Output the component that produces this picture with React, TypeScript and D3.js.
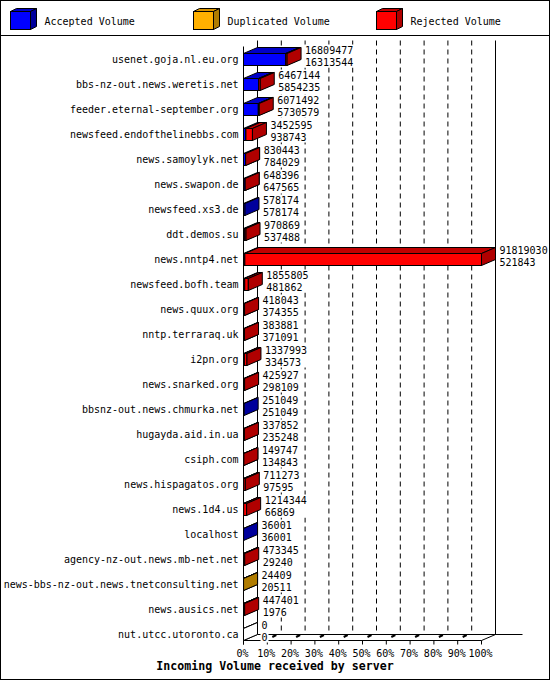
import React from 'react'
import * as d3 from 'd3'

// servers, top to bottom
const categories = [
  'usenet.goja.nl.eu.org',
  'bbs-nz-out.news.weretis.net',
  'feeder.eternal-september.org',
  'newsfeed.endofthelinebbs.com',
  'news.samoylyk.net',
  'news.swapon.de',
  'newsfeed.xs3.de',
  'ddt.demos.su',
  'news.nntp4.net',
  'newsfeed.bofh.team',
  'news.quux.org',
  'nntp.terraraq.uk',
  'i2pn.org',
  'news.snarked.org',
  'bbsnz-out.news.chmurka.net',
  'hugayda.aid.in.ua',
  'csiph.com',
  'news.hispagatos.org',
  'news.1d4.us',
  'localhost',
  'agency-nz-out.news.mb-net.net',
  'news-bbs-nz-out.news.tnetconsulting.net',
  'news.ausics.net',
  'nut.utcc.utoronto.ca',
]

const acceptedVolume = [
  16313544, 5854235, 5730579, 938743, 784029, 647565, 578174, 537488,
  521843, 481862, 374355, 371091, 334573, 298109, 251049, 235248,
  134843, 97595, 66869, 36001, 29240, 20511, 1976, 0,
]

const duplicatedVolume = [
  0, 0, 0, 0, 0, 0, 0, 0,
  0, 0, 0, 0, 0, 0, 0, 0,
  0, 0, 0, 0, 0, 3898, 0, 0,
]

const rejectedVolume = [
  495933, 612909, 340913, 2513852, 46414, 831, 0, 433381,
  91297187, 1373943, 43688, 12790, 1003420, 127818, 0, 102604,
  14904, 613678, 1147475, 0, 444105, 0, 445425, 0,
]

const seriesNames = ['Accepted Volume', 'Duplicated Volume', 'Rejected Volume']
const percentTicks = [0, 10, 20, 30, 40, 50, 60, 70, 80, 90, 100]
const title = 'Incoming Volume received by server'

const W = 550
const H = 680
const DX = 14 // 3d depth
const DY = 6
const FONT = '"DejaVu Sans Mono", "Liberation Mono", monospace'

const palette = [
  { front: '#0000ff', top: '#0000c8', side: '#00009c' },
  { front: '#ffb000', top: '#d89400', side: '#b07c00' },
  { front: '#ff0000', top: '#c00000', side: '#b00000' },
]
const emptyBox = { front: '#ffffff', top: '#ffffff', side: '#ffffff' }

type Colors = { front: string; top: string; side: string }

const Box = ({ x0, x1, y0, y1, c, dx = DX, dy = DY }: {
  x0: number; x1: number; y0: number; y1: number; c: Colors; dx?: number; dy?: number
}) => (
  <g stroke="#000" strokeWidth={1}>
    <rect x={x0} y={y0} width={Math.max(x1 - x0, 0)} height={y1 - y0} fill={c.front} />
    <polygon points={`${x0},${y0} ${x0 + dx},${y0 - dy} ${x1 + dx},${y0 - dy} ${x1},${y0}`} fill={c.top} />
    <polygon points={`${x1},${y0} ${x1 + dx},${y0 - dy} ${x1 + dx},${y1 - dy} ${x1},${y1}`} fill={c.side} />
  </g>
)

export default function App() {
  const series = [acceptedVolume, duplicatedVolume, rejectedVolume]
  const totals = categories.map((_, i) => series.reduce((s, arr) => s + arr[i], 0))
  const maxTotal = d3.max(totals) as number

  const x = d3.scaleLinear().domain([0, 100]).range([243.5, 481.5])
  const y = d3.scaleBand<string>().domain(categories).range([40.5, 640.5])
  const legendX = d3.scaleLinear().domain([0, 1]).range([10.5, 193.5])

  const pct = (v: number) => (v / maxTotal) * 100
  const rowCenter = (c: string) => (y(c) as number) + 19
  const baseY = y.range()[1]
  const topY = y.range()[0]
  const x0 = x(0)
  const x100 = x(100)

  return (
    <div style={{ position: 'absolute', left: 0, top: 0 }}>
      <svg width={W} height={H} style={{ display: 'block', background: '#fff' }} fontFamily={FONT}>
        <rect x={0.5} y={0.5} width={W - 1} height={H - 1} fill="#fff" stroke="#000" />

        {/* legend */}
        {seriesNames.map((name, k) => (
          <g key={name}>
            <Box x0={legendX(k)} x1={legendX(k) + 20} y0={11.5} y1={29.5} c={palette[k]} dx={6} dy={3} />
            <text x={legendX(k) + 34} y={24.5} fontSize={10} fill="#000">{name}</text>
          </g>
        ))}
        <line x1={0} x2={W} y1={35.5} y2={35.5} stroke="#000" />

        {/* back wall grid */}
        {percentTicks.slice(1, -1).map(t => (
          <line key={t} x1={x(t) + DX} x2={x(t) + DX} y1={topY} y2={baseY - DY}
            stroke="#000" strokeDasharray="5,4" />
        ))}
        <line x1={x0 + DX} x2={x0 + DX} y1={topY} y2={baseY - DY} stroke="#000" />
        <line x1={x100 + DX} x2={x100 + DX} y1={topY} y2={baseY - DY} stroke="#000" />
        <line x1={x0 + DX} x2={x100 + DX + 27} y1={baseY - DY} y2={baseY - DY} stroke="#000" />

        {/* floor */}
        <line x1={x0} x2={x100} y1={baseY} y2={baseY} stroke="#000" />
        <line x1={x0} x2={x0 + DX} y1={baseY} y2={baseY - DY} stroke="#000" />
        <line x1={x100} x2={x100 + DX} y1={baseY} y2={baseY - DY} stroke="#000" />
        <line x1={x0} x2={x0} y1={topY + DY} y2={baseY + 4} stroke="#000" />
        {percentTicks.map(t => (
          <g key={t}>
            <line x1={x(t)} x2={x(t)} y1={baseY} y2={baseY + 4} stroke="#000" />
            {t > 0 && t < 100 && (
              <line x1={x(t) + 5} x2={x(t) + 9} y1={baseY - 3.5} y2={baseY - 5.5} stroke="#000" strokeWidth={2} />
            )}
            <text x={x(t) - 1} y={656.5} fontSize={10} textAnchor="middle" fill="#000">{t}%</text>
          </g>
        ))}

        {/* bars */}
        {categories.map((c, i) => {
          const rc = rowCenter(c)
          const y0 = rc - 6
          const y1 = rc + 6
          let cum = 0
          const boxes: React.ReactNode[] = []
          series.forEach((arr, k) => {
            const v = arr[i]
            if (v <= 0) return
            boxes.push(<Box key={k} x0={x(pct(cum))} x1={x(pct(cum + v))} y0={y0} y1={y1} c={palette[k]} />)
            cum += v
          })
          if (!boxes.length) boxes.push(<Box key="e" x0={x0} x1={x0} y0={y0} y1={y1} c={emptyBox} />)
          const lx = x(pct(totals[i])) + DX + 4
          const l1 = String(totals[i])
          const l2 = String(acceptedVolume[i])
          return (
            <g key={c}>
              <text x={238.5} y={rc + 3.5} fontSize={10} textAnchor="end" fill="#000">{c}</text>
              {boxes}
              <rect x={lx - 1} y={rc - 15} width={Math.max(l1.length, l2.length) * 6 + 2} height={23} fill="#fff" />
              <text x={lx} y={rc - 5.3} fontSize={10} fill="#000">{l1}</text>
              <text x={lx} y={rc + 6.2} fontSize={10} fill="#000">{l2}</text>
            </g>
          )
        })}

        <text x={W / 2} y={670} fontSize={11.6} fontWeight="bold" textAnchor="middle" fill="#000">{title}</text>
      </svg>
    </div>
  )
}
